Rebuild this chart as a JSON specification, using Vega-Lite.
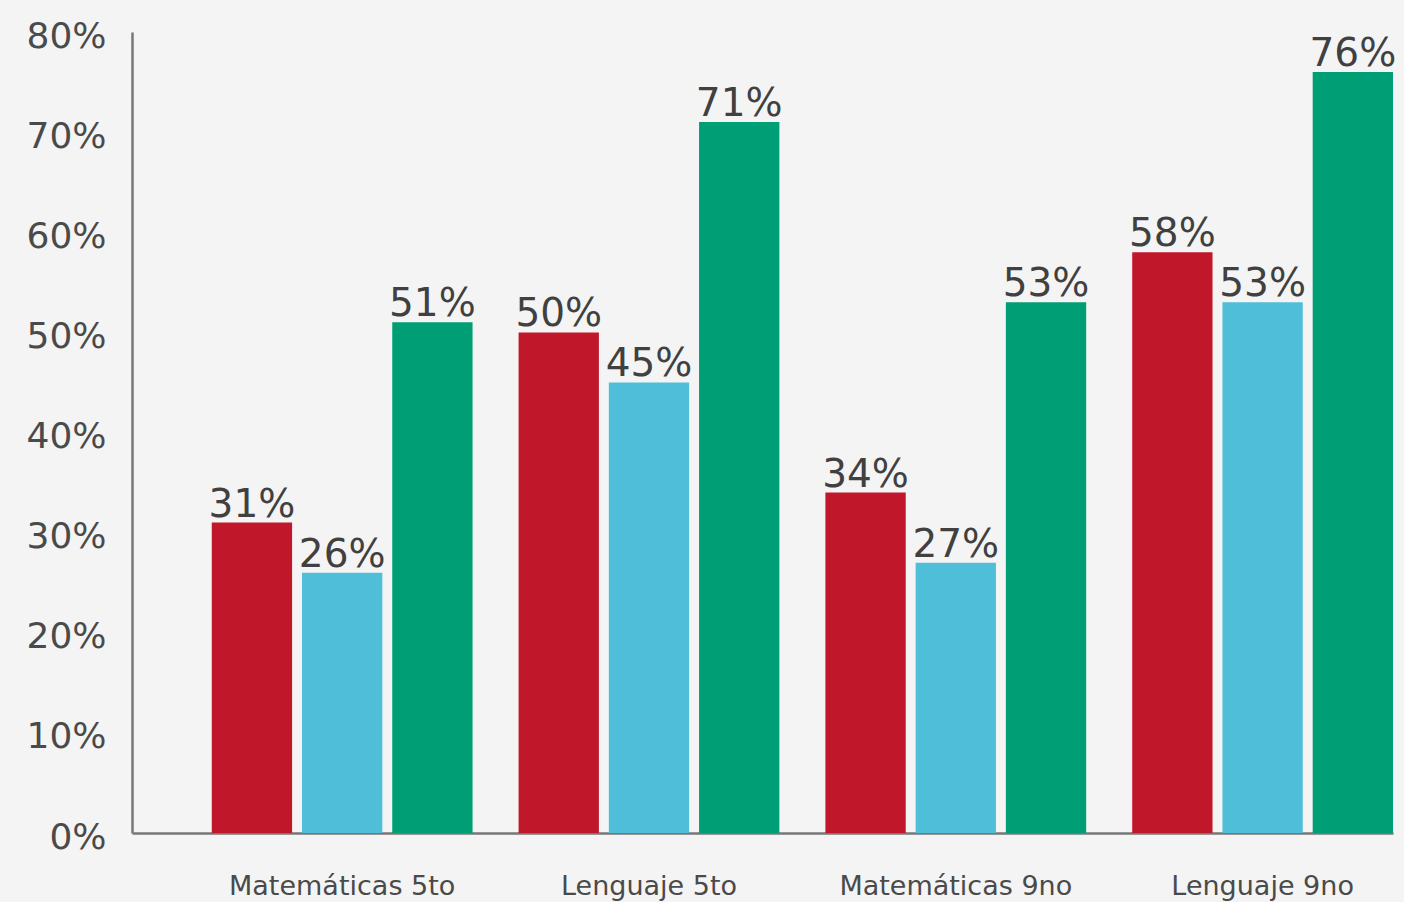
{
  "$schema": "https://vega.github.io/schema/vega-lite/v6.json",
  "width": 1261,
  "height": 801,
  "autosize": {"type": "none"},
  "padding": {"left": 132, "top": 32, "right": 11, "bottom": 69},
  "background": "#f4f4f4",
  "config": {
    "view": {"stroke": null},
    "font": "DejaVu Sans"
  },
  "data": {
    "values": [
      {"grupo": "Matemáticas 5to", "serie": "Serie 1", "valor": 0.31},
      {"grupo": "Matemáticas 5to", "serie": "Serie 2", "valor": 0.26},
      {"grupo": "Matemáticas 5to", "serie": "Serie 3", "valor": 0.51},
      {"grupo": "Lenguaje 5to", "serie": "Serie 1", "valor": 0.50},
      {"grupo": "Lenguaje 5to", "serie": "Serie 2", "valor": 0.45},
      {"grupo": "Lenguaje 5to", "serie": "Serie 3", "valor": 0.71},
      {"grupo": "Matemáticas 9no", "serie": "Serie 1", "valor": 0.34},
      {"grupo": "Matemáticas 9no", "serie": "Serie 2", "valor": 0.27},
      {"grupo": "Matemáticas 9no", "serie": "Serie 3", "valor": 0.53},
      {"grupo": "Lenguaje 9no", "serie": "Serie 1", "valor": 0.58},
      {"grupo": "Lenguaje 9no", "serie": "Serie 2", "valor": 0.53},
      {"grupo": "Lenguaje 9no", "serie": "Serie 3", "valor": 0.76}
    ]
  },
  "encoding": {
    "x": {
      "field": "grupo",
      "type": "nominal",
      "sort": null,
      "scale": {"paddingInner": 0.15, "paddingOuter": 0.13, "align": 1},
      "axis": {
        "title": null,
        "labelAngle": 0,
        "labelFont": "DejaVu Sans",
        "labelFontSize": 27,
        "labelLimit": 0,
        "labelColor": "#4a4a4a",
        "labelPadding": 40,
        "ticks": false,
        "domainColor": "#777777",
        "domainWidth": 2.5
      }
    },
    "xOffset": {"field": "serie", "type": "nominal", "scale": {"paddingInner": 0.11}},
    "y": {
      "field": "valor",
      "type": "quantitative",
      "scale": {"domain": [0, 0.8], "nice": false},
      "axis": {
        "title": null,
        "format": ".0%",
        "values": [0, 0.1, 0.2, 0.3, 0.4, 0.5, 0.6, 0.7, 0.8],
        "grid": false,
        "ticks": false,
        "labelFontSize": 36,
        "labelColor": "#4a4a4a",
        "labelPadding": 26,
        "labelOffset": 4,
        "domainColor": "#777777",
        "domainWidth": 2.5
      }
    }
  },
  "layer": [
    {
      "mark": {"type": "bar"},
      "encoding": {
        "color": {
          "field": "serie",
          "type": "nominal",
          "scale": {"range": ["#c0172a", "#4fbed9", "#009e74"]},
          "legend": null
        }
      }
    },
    {
      "mark": {"type": "text", "baseline": "alphabetic", "dy": -6, "fontSize": 39, "color": "#404040"},
      "encoding": {
        "text": {"field": "valor", "type": "quantitative", "format": ".0%"}
      }
    }
  ]
}
